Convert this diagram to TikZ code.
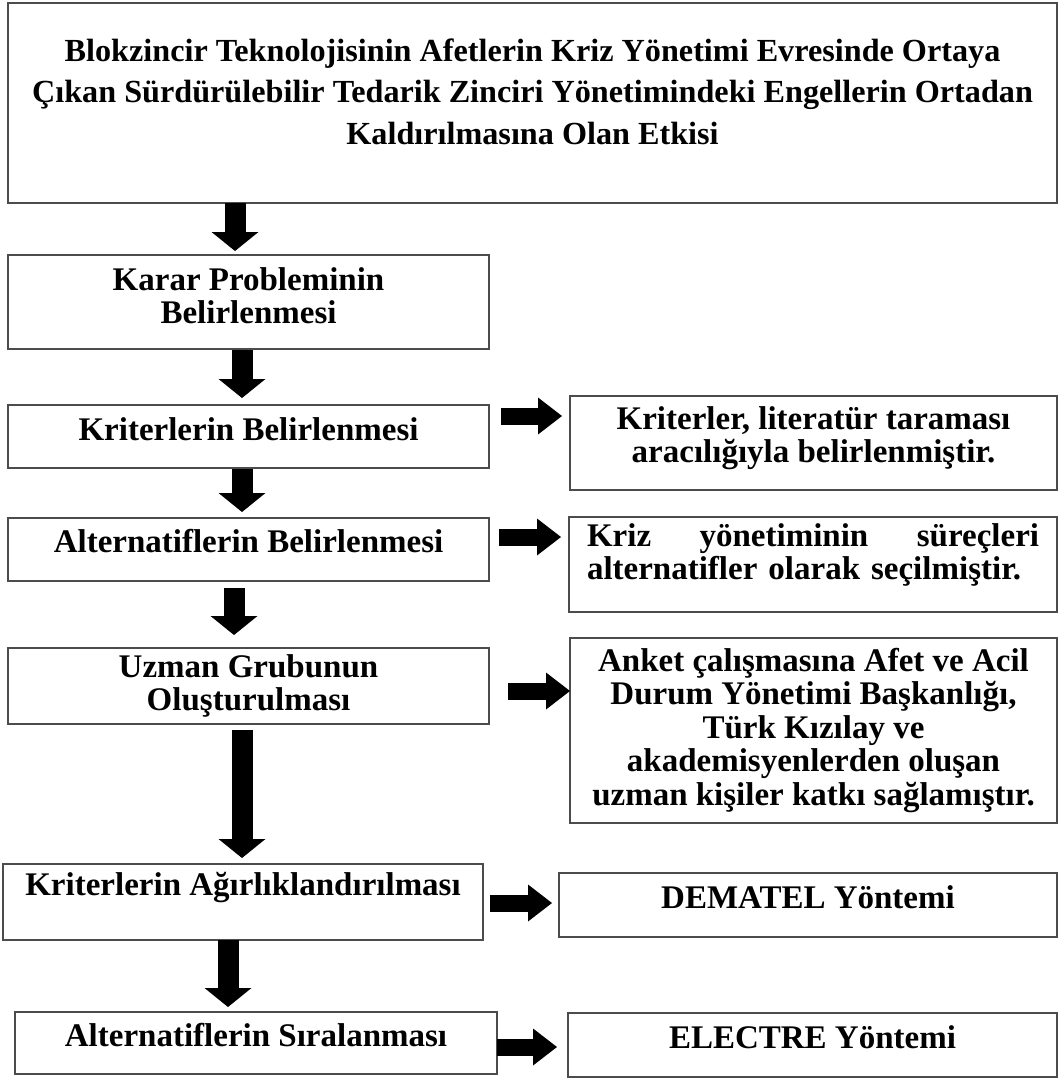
\documentclass[tikz,border=0pt]{standalone}
\usepackage{fontspec}
\setmainfont{Liberation Serif}
\usetikzlibrary{arrows.meta, calc}

\begin{document}
\begin{tikzpicture}[x=1pt, y=-1pt, every node/.style={outer sep=0pt, font=\bfseries\fontsize{33pt}{33pt}\selectfont}]
	\tikzstyle{box}=[
		draw=black!70,
		line width=1.3pt,
		inner sep=0pt
	]
	\tikzstyle{txt}=[
		align=center,
		inner sep=0pt
	]
	\tikzstyle{blockdown}=[
		line width=21pt,
		-{Triangle[width=47pt, length=19pt, line width=0pt]}
	]
	\tikzstyle{blockright}=[
		line width=17pt,
		-{Triangle[width=37pt, length=24pt, line width=0pt]}
	]

	\useasboundingbox (0,0) rectangle (1060,1081);

	% left column
	\node (top) [box, minimum width=1049pt, minimum height=200pt] at (532.5,103) {};
	\node (toptxt) [txt, font=\bfseries\fontsize{32.2pt}{41.5pt}\selectfont] at ([yshift=11.5pt]top.center)
		{Blokzincir Teknolojisinin Afetlerin Kriz Yönetimi Evresinde Ortaya\\
		Çıkan Sürdürülebilir Tedarik Zinciri Yönetimindeki Engellerin Ortadan\\
		Kaldırılmasına Olan Etkisi};

	\node (prob) [box, minimum width=481pt, minimum height=94pt] at (248.5,302) {};
	\node (probtxt) [txt] at ([yshift=6pt]prob.center) {Karar Probleminin\\Belirlenmesi};

	\node (krit) [box, minimum width=481pt, minimum height=63pt] at (248.5,436.5) {};
	\node (krittxt) [txt] at ([yshift=7.5pt]krit.center) {Kriterlerin Belirlenmesi};

	\node (alt) [box, minimum width=481pt, minimum height=63pt] at (248.5,549.5) {};
	\node (alttxt) [txt] at ([yshift=8pt]alt.center) {Alternatiflerin Belirlenmesi};

	\node (uzman) [box, minimum width=481pt, minimum height=76pt] at (248.5,686) {};
	\node (uzmantxt) [txt] at (uzman.center) {Uzman Grubunun\\Oluşturulması};

	\node (agir) [box, minimum width=480pt, minimum height=76pt] at (243,902) {};
	\node (agirtxt) [txt] at ([yshift=14pt]agir.center) {Kriterlerin Ağırlıklandırılması};

	\node (sira) [box, minimum width=482pt, minimum height=62pt] at (256,1043) {};
	\node (siratxt) [txt] at ([yshift=8pt]sira.center) {Alternatiflerin Sıralanması};

	% right column
	\node (lit) [box, minimum width=487pt, minimum height=94pt] at (813.5,443) {};
	\node (littxt) [txt] at ([yshift=4.5pt]lit.center) {Kriterler, literatür taraması\\aracılığıyla belirlenmiştir.};

	\node (surec) [box, minimum width=488pt, minimum height=95pt] at (813,564.5) {};
	\node (surectxt) [txt, align=left, text width=452pt] at ([yshift=10pt]surec.center)
		{\makebox[452pt][s]{Kriz\hfill yönetiminin\hfill süreçleri}\\alternatifler olarak seçilmiştir.};

	\node (anket) [box, minimum width=487pt, minimum height=185pt] at (813.5,730.5) {};
	\node (ankettxt) [txt, font=\bfseries\fontsize{33pt}{33.5pt}\selectfont] at (anket.center)
		{Anket çalışmasına Afet ve Acil\\Durum Yönetimi Başkanlığı,\\Türk Kızılay ve\\akademisyenlerden oluşan\\uzman kişiler katkı sağlamıştır.};

	\node (dematel) [box, minimum width=498pt, minimum height=64pt] at (808,905) {};
	\node (demateltxt) [txt] at ([yshift=8pt]dematel.center) {DEMATEL Yöntemi};

	\node (electre) [box, minimum width=489pt, minimum height=64pt] at (812.5,1045) {};
	\node (electretxt) [txt] at ([yshift=8pt]electre.center) {ELECTRE Yöntemi};

	% down arrows
	\draw [blockdown, shorten >=4pt] ([xshift=-13.5pt]prob.north |- top.south) -- ([xshift=-13.5pt]prob.north);
	\draw [blockdown, shorten <=1pt, shorten >=7pt] ([xshift=-6.5pt]krit.north |- prob.south) -- ([xshift=-6.5pt]krit.north);
	\draw [blockdown, shorten <=1pt, shorten >=6pt] ([xshift=-6.5pt]alt.north |- krit.south) -- ([xshift=-6.5pt]alt.north);
	\draw [blockdown, shorten <=7pt, shorten >=13pt] ([xshift=-14.5pt]uzman.north |- alt.south) -- ([xshift=-14.5pt]uzman.north);
	\draw [blockdown, shorten <=6pt, shorten >=6pt] ([xshift=-1pt]agir.north |- uzman.south) -- ([xshift=-1pt]agir.north);
	\draw [blockdown, shorten >=5pt] ([xshift=-28pt]sira.north |- agir.south) -- ([xshift=-28pt]sira.north);

	% right arrows
	\draw [blockright, shorten <=12pt, shorten >=8pt] ([yshift=20.5pt]krit.east) -- ([yshift=20.5pt]krit.east -| lit.west);
	\draw [blockright, shorten <=10pt, shorten >=8pt] ([yshift=12.5pt]alt.east) -- ([yshift=12.5pt]alt.east -| surec.west);
	\draw [blockright, shorten <=19pt] ([yshift=-5pt]uzman.east) -- ([yshift=-5pt]uzman.east -| anket.west);
	\draw [blockright, shorten <=7pt, shorten >=7pt] ([yshift=-1pt]agir.east) -- ([yshift=-1pt]agir.east -| dematel.west);
	\draw [blockright, shorten >=11pt] ([yshift=-4pt]sira.east) -- ([yshift=-4pt]sira.east -| electre.west);
\end{tikzpicture}
\end{document}
